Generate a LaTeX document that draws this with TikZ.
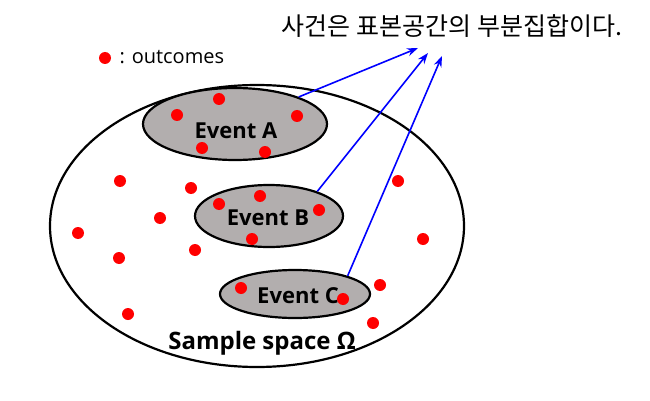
\documentclass[tikz,border=0pt]{standalone}
\usepackage{fontspec}
\setmainfont{Open Sans}
\newfontfamily\kr{Noto Sans CJK KR}
\usetikzlibrary{arrows.meta,shapes.geometric}
\definecolor{evgray}{RGB}{178,174,174}
\tikzset{
  dot/.style={circle,fill=red,inner sep=0pt,minimum size=12pt},
  evt/.style={ellipse,draw=black,line width=2.2pt,fill=evgray,inner sep=0pt},
  arr/.style={draw=blue,line width=1.6pt,-{Stealth[length=11pt,width=8pt]}},
  lbl/.style={font=\bfseries\fontsize{22}{26}\selectfont}
}
\begin{document}
\begin{tikzpicture}[x=1pt,y=-1pt]
\useasboundingbox (0,0) rectangle (650,401);
\node[ellipse,draw=black,line width=2.2pt,minimum width=414pt,minimum height=282pt,inner sep=0pt] (omega) at (257,226) {};
\node[evt,minimum width=184pt,minimum height=72pt] (A) at (235,124) {};
\node[evt,minimum width=148pt,minimum height=62pt] (B) at (269,216) {};
\node[evt,minimum width=150pt,minimum height=48pt] (C) at (295,294) {};
\node[lbl] (ea) at (236,131) {Event A};
\node[lbl] (eb) at (268,218) {Event B};
\node[lbl] (ec) at (298,296) {Event C};
\node[font=\bfseries\fontsize{24}{28}\selectfont] (ss) at (262,343) {Sample space Ω};
\node[font=\kr\fontsize{25}{30}\selectfont] (title) at (452,26) {사건은 표본공간의 부분집합이다.};
\node[dot] (leg) at (105,58) {};
\node[font=\fontsize{20}{24}\selectfont,anchor=west] (legt) at (116,57) {: outcomes};
\coordinate (ta) at (418,48);
\coordinate (tb) at (428,53);
\coordinate (tc) at (442,56);
\draw[arr] (A.23) -- (ta);
\draw[arr] (B.27) -- (tb);
\draw[arr] (C.19) -- (tc);
\foreach \p [count=\i] in {(219,99),(177,115),(297,116),(202,148),(265,152),
  (120,181),(191,188),(260,196),(219,204),(319,210),(160,218),(78,233),
  (252,239),(195,250),(119,258),(398,181),(423,239),(241,288),(343,299),
  (380,285),(128,314),(373,323)}
  \node[dot] (d\i) at \p {};
\end{tikzpicture}
\end{document}
